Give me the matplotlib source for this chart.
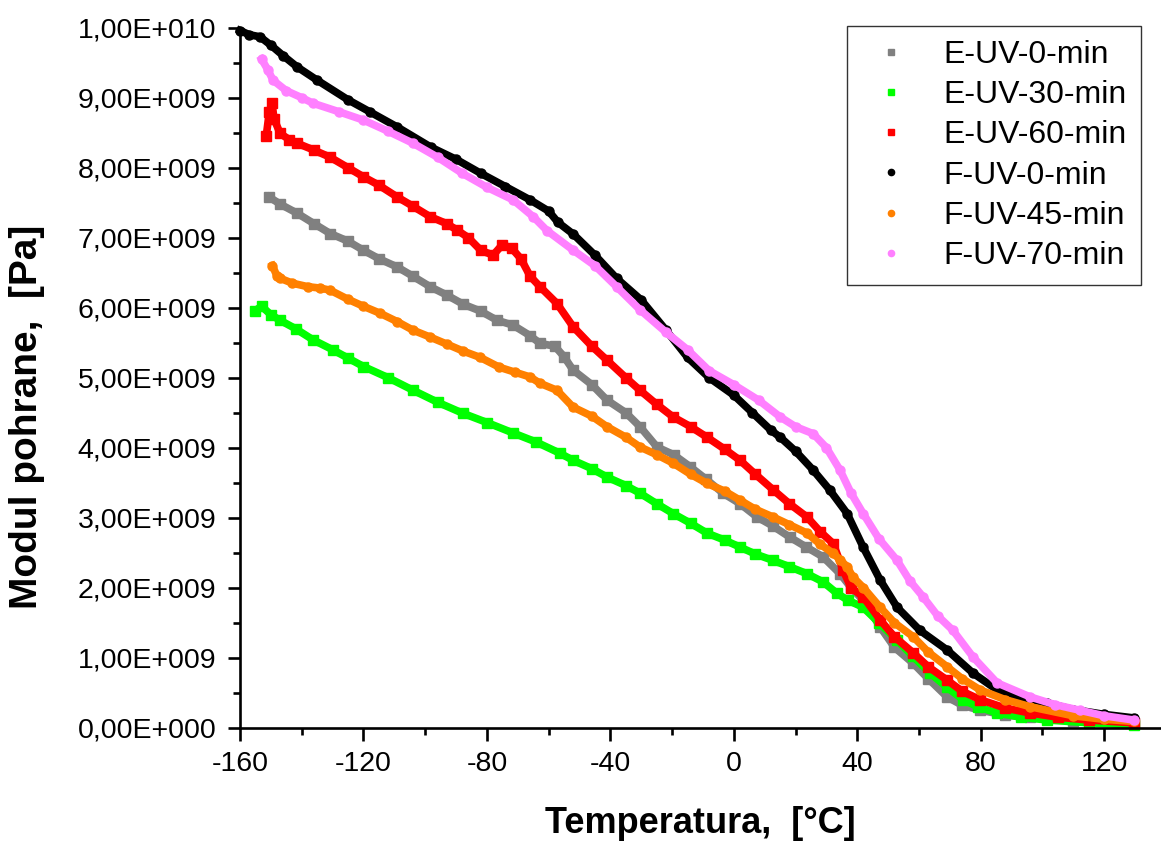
import matplotlib
matplotlib.use('Agg')
import matplotlib.pyplot as plt
from matplotlib.lines import Line2D
from matplotlib.ticker import FuncFormatter, MultipleLocator, AutoMinorLocator

plt.rcParams['font.family'] = ['Liberation Sans', 'DejaVu Sans']
plt.rcParams['axes.unicode_minus'] = False

# E-UV-0-min (grey squares)
t_e0 = [-150.5, -147, -141.5, -136, -130.8, -125, -120, -115, -109, -104, -98.4, -93, -87.7, -82,
        -76.7, -71.5, -66, -62.8, -58, -55, -52.1, -46, -41.1, -35, -30.4, -24.9, -19.5, -14.2, -9,
        -3.5, 2, 7.5, 12.7, 18.2, 23.5, 28.9, 34.4, 38, 41.9, 47.4, 52, 58.1, 63, 69.1, 74, 79.8,
        88, 96, 110, 129.5]
e_e0 = [7.58, 7.48, 7.35, 7.2, 7.06, 6.95, 6.82, 6.7, 6.58, 6.45, 6.30, 6.18, 6.05, 5.95,
        5.82, 5.75, 5.6, 5.49, 5.45, 5.3, 5.11, 4.9, 4.68, 4.5, 4.30, 4.01, 3.9, 3.73, 3.55,
        3.35, 3.2, 3.01, 2.88, 2.72, 2.58, 2.44, 2.2, 2.0, 1.82, 1.44, 1.15, 0.92, 0.7, 0.44, 0.32, 0.25,
        0.18, 0.15, 0.1, 0.07]

# E-UV-30-min (green squares)
t_e30 = [-155, -153, -150, -147, -142, -136.3, -130, -125, -120, -112, -103.9, -96, -87.7, -80,
         -71.5, -64, -56.3, -52.1, -46, -41.1, -35, -30.4, -25, -19.7, -14, -8.7, -3, 2, 7, 12.7,
         18, 23.7, 29, 33.4, 37, 41.9, 47, 52.9, 58, 63.6, 69, 74.3, 79, 85.3, 93, 101.5, 115, 129.5]
e_e30 = [5.96, 6.02, 5.9, 5.82, 5.7, 5.54, 5.4, 5.28, 5.16, 5.0, 4.82, 4.65, 4.49, 4.36,
         4.21, 4.08, 3.92, 3.82, 3.7, 3.58, 3.46, 3.35, 3.2, 3.06, 2.92, 2.78, 2.68, 2.58, 2.48, 2.39,
         2.3, 2.2, 2.08, 1.92, 1.82, 1.72, 1.5, 1.25, 1.02, 0.78, 0.58, 0.40, 0.3, 0.21, 0.15, 0.11, 0.07, 0.04]

# E-UV-60-min (red squares)
t_e60 = [-151.5, -150.5, -149.6, -149, -147, -144, -141.5, -136, -130.8, -125, -120, -115, -109,
         -104, -98.4, -93, -89.7, -86, -82, -78, -75, -72, -69, -66, -62.8, -57.3, -52.1, -46, -41.1,
         -35, -30.4, -25, -19.7, -14, -8.7, -3, 2, 7, 12.7, 18, 23.7, 28, 32.2, 35.4, 38, 41.9, 47.4,
         52, 58.1, 63, 69.1, 74, 79.8, 88, 96, 105, 115, 129.5]
e_e60 = [8.45, 8.8, 8.92, 8.7, 8.49, 8.4, 8.35, 8.25, 8.15, 8.0, 7.87, 7.75, 7.58,
         7.45, 7.30, 7.2, 7.11, 7.0, 6.82, 6.75, 6.9, 6.85, 6.7, 6.45, 6.3, 6.06, 5.73, 5.45, 5.25,
         5.0, 4.82, 4.62, 4.44, 4.3, 4.15, 3.98, 3.82, 3.62, 3.40, 3.2, 3.01, 2.8, 2.63, 2.25, 2.0, 1.87, 1.54,
         1.3, 1.07, 0.87, 0.68, 0.52, 0.40, 0.28, 0.21, 0.15, 0.11, 0.07]

# F-UV-0-min (black circles)
t_f0 = [-160, -157, -153.5, -150, -146, -141.5, -135, -125, -118, -109, -98, -90, -82, -74, -66,
        -60, -57, -52, -45, -38, -30, -22, -15, -8, 0, 6, 12, 15, 20, 25.7, 31, 36.7, 41.9, 47.4,
        52.9, 60.3, 69.1, 77.5, 85.3, 93, 101.5, 110, 120, 129.5]
e_f0 = [9.96, 9.9, 9.87, 9.75, 9.6, 9.44, 9.25, 8.97, 8.8, 8.58, 8.29, 8.12, 7.92, 7.73, 7.54,
        7.38, 7.22, 7.05, 6.75, 6.42, 6.11, 5.68, 5.29, 5.0, 4.75, 4.5, 4.25, 4.15, 3.95, 3.68, 3.4, 3.06, 2.58, 2.11,
        1.72, 1.39, 1.11, 0.78, 0.54, 0.44, 0.35, 0.26, 0.19, 0.14]

# F-UV-45-min (orange circles)
t_f45 = [-149.5, -148, -147, -143, -138, -134, -130.8, -125, -120, -114.6, -109, -104, -98.4, -93,
         -87.7, -82.2, -76, -71, -66, -62.8, -57.3, -52.1, -46, -41.1, -35, -30.4, -25, -19.7, -14,
         -8.7, -3, 2, 7, 12.7, 18, 23.7, 28, 32.2, 34.4, 36.7, 38.6, 42, 47.4, 52, 58.1, 63, 69.1, 74,
         79.8, 88, 96, 110, 120, 129.5]
e_f45 = [6.6, 6.45, 6.42, 6.35, 6.3, 6.28, 6.25, 6.12, 6.02, 5.92, 5.8, 5.68, 5.58, 5.48,
         5.38, 5.29, 5.15, 5.08, 5.01, 4.92, 4.82, 4.58, 4.45, 4.30, 4.15, 4.01, 3.9, 3.78, 3.62,
         3.49, 3.38, 3.25, 3.12, 3.01, 2.9, 2.78, 2.62, 2.49, 2.4, 2.3, 2.15, 2.0, 1.72, 1.5, 1.30, 1.08, 0.87, 0.7,
         0.54, 0.4, 0.30, 0.17, 0.12, 0.09]

# F-UV-70-min (pink circles)
t_f70 = [-153, -151, -149.3, -145, -140, -136.3, -128, -120, -112, -104, -96, -88, -80, -71.5,
         -65, -60.5, -52, -45, -38, -30.4, -22, -15, -8, 0, 8, 15, 20, 25.7, 30, 34.4, 38, 41.9,
         47, 52.9, 57, 61.3, 66, 71, 77.5, 85.3, 96, 104, 112, 120, 129.5]
e_f70 = [9.55, 9.4, 9.25, 9.1, 9.0, 8.92, 8.8, 8.68, 8.52, 8.35, 8.15, 7.92, 7.72, 7.54,
         7.3, 7.1, 6.82, 6.6, 6.3, 5.97, 5.65, 5.4, 5.1, 4.9, 4.68, 4.44, 4.3, 4.2, 4.0, 3.68, 3.35, 3.06,
         2.7, 2.39, 2.1, 1.87, 1.6, 1.39, 1.01, 0.64, 0.44, 0.33, 0.25, 0.17, 0.11]

series = [
    ('E-UV-0-min', t_e0, e_e0, '#808080', 's'),
    ('E-UV-30-min', t_e30, e_e30, '#00ff00', 's'),
    ('E-UV-60-min', t_e60, e_e60, '#ff0000', 's'),
    ('F-UV-0-min', t_f0, e_f0, '#000000', 'o'),
    ('F-UV-45-min', t_f45, e_f45, '#ff8000', 'o'),
    ('F-UV-70-min', t_f70, e_f70, '#ff80ff', 'o'),
]

fig = plt.figure(figsize=(11.61, 8.43), dpi=100)
ax = fig.add_axes([240 / 1161, 115.3 / 843, 921 / 1161, 700 / 843])

handles = []
for name, t, e, col, mk in series:
    ev = [v * 1e9 for v in e]
    ax.plot(t, ev, color=col, lw=5.5, marker=mk, ms=6.5, mec=col, mfc=col, clip_on=False)
    handles.append(Line2D([], [], ls='', marker=mk, ms=4.5, color=col, label=name))

ax.set_xlim(-160, 138.4)
ax.set_ylim(0, 1e10)
ax.xaxis.set_major_locator(MultipleLocator(40))
ax.xaxis.set_minor_locator(AutoMinorLocator(2))
ax.yaxis.set_major_locator(MultipleLocator(1e9))
ax.yaxis.set_minor_locator(AutoMinorLocator(2))


def sci_comma(v, pos):
    if v == 0:
        return '0,00E+000'
    exp = 0
    m = abs(v)
    while m >= 10:
        m /= 10
        exp += 1
    while m < 1:
        m *= 10
        exp -= 1
    s = f'{m:.2f}'.replace('.', ',')
    return f'{s}E+{exp:03d}'


ax.yaxis.set_major_formatter(FuncFormatter(sci_comma))

for side in ['top', 'right']:
    ax.spines[side].set_visible(False)
for side in ['left', 'bottom']:
    ax.spines[side].set_linewidth(1.9)

ax.tick_params(which='major', direction='out', length=9, width=1.9, labelsize=20.5)
ax.tick_params(which='minor', direction='out', length=5, width=1.9)
ax.tick_params(axis='y', which='major', pad=8)
ax.tick_params(axis='x', which='major', pad=8)

ax.set_xlabel('Temperatura,  [°C]', fontsize=26, fontweight='bold')
ax.set_ylabel('Modul pohrane,  [Pa]', fontsize=28, fontweight='bold')
ax.xaxis.set_label_coords(0.5, -0.112)
ax.yaxis.set_label_coords(-0.212, 0.444)

leg = ax.legend(handles=handles, loc='upper right', bbox_to_anchor=(0.978, 1.003),
                borderaxespad=0, fontsize=23, frameon=True, fancybox=False,
                labelspacing=0.32, handlelength=1.85, handletextpad=0.7, borderpad=0.45)
leg.get_frame().set_edgecolor('black')
leg.get_frame().set_linewidth(1.0)

fig.savefig('out.png', dpi=100)
